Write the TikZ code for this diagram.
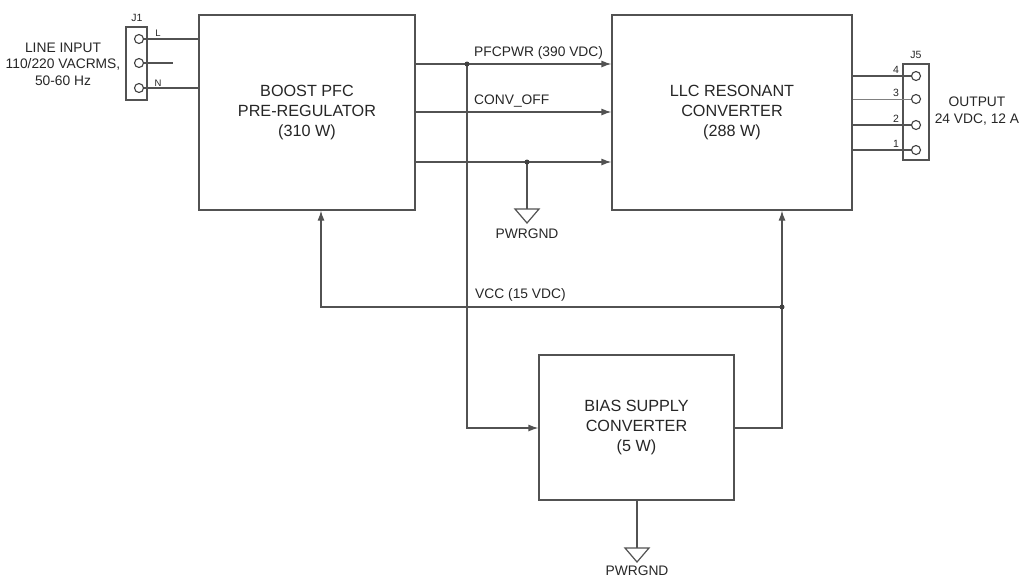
\documentclass[tikz,border=0pt]{standalone}
\usepackage{fontspec}
\setmainfont{Liberation Sans}
\usetikzlibrary{arrows.meta}
\begin{document}
\begin{tikzpicture}[x=1pt,y=-1pt,
  ln/.style={draw=black!68,line width=1.2pt},
  blk/.style={ln,fill=white,align=center,inner sep=0pt,text=black!85,font=\fontsize{16.2}{20}\selectfont},
  arr/.style={ln,-{Latex[length=10pt,width=7pt]}},
  lbl/.style={text=black!85,font=\fontsize{13.8}{16.5}\selectfont,inner sep=0pt},
  sml/.style={text=black!85,font=\fontsize{10.5}{12}\selectfont,inner sep=0pt},
  dotc/.style={circle,fill=black!75,inner sep=0pt,minimum size=5pt},
  pin/.style={circle,draw=black!75,line width=1.1pt,fill=white,inner sep=0pt,minimum size=9pt},
  conn/.style={draw=black!68,line width=1.2pt,inner sep=0pt}
]
\useasboundingbox (0,0) rectangle (1019,579);

% blocks
\node[blk,minimum width=216pt,minimum height=195pt] (boost) at (307,112.5) {BOOST PFC\\PRE-REGULATOR\\(310 W)};
\node[blk,minimum width=240pt,minimum height=195pt] (llc) at (732,112.5) {LLC RESONANT\\CONVERTER\\(288 W)};
\node[blk,minimum width=195pt,minimum height=145pt] (bias) at (636.5,427.5) {BIAS SUPPLY\\CONVERTER\\(5 W)};

% J1 connector
\node[conn,minimum width=21pt,minimum height=73pt] (j1) at (136.5,63.5) {};
\node[pin] (j1a) at (139,39) {};
\node[pin] (j1b) at (139,63) {};
\node[pin] (j1c) at (139,88) {};
\coordinate (j1bend) at (173,63);
\draw[ln] (j1a) -- (boost.west |- j1a);
\draw[ln] (j1b) -- (j1bend);
\draw[ln] (j1c) -- (boost.west |- j1c);
\node[sml] (j1lab) at (137,18) {J1};
\node[sml,font=\fontsize{9.5}{10}\selectfont] (lL) at (158,33) {L};
\node[sml,font=\fontsize{9.5}{10}\selectfont] (lN) at (158,83) {N};
\node[lbl,align=center] (lin) at (63,64) {LINE INPUT\\110/220 VACRMS,\\50-60 Hz};

% J5 connector
\node[conn,minimum width=26pt,minimum height=96pt] (j5) at (916,112) {};
\node[pin] (p4) at (916,76) {};
\node[pin] (p3) at (916,99) {};
\node[pin] (p2) at (916,125) {};
\node[pin] (p1) at (916,150) {};
\draw[ln] (llc.east |- p4) -- (p4);
\draw[ln,draw=black!50,line width=0.8pt] (llc.east |- p3) -- (p3);
\draw[ln] (llc.east |- p2) -- (p2);
\draw[ln] (llc.east |- p1) -- (p1);
\node[sml] (n4) at (896,70) {4};
\node[sml] (n3) at (896,93) {3};
\node[sml] (n2) at (896,119) {2};
\node[sml] (n1) at (896,144) {1};
\node[sml] (j5lab) at (916,55) {J5};
\node[lbl,align=center] (out) at (977,111) {OUTPUT\\24 VDC, 12 A};

% signals between boost and llc
\coordinate (pj) at (467,64);
\coordinate (cj) at (467,112);
\coordinate (gj) at (527,162);
\draw[arr] (boost.east |- pj) -- (llc.west |- pj);
\draw[arr] (boost.east |- cj) -- (llc.west |- cj);
\draw[arr] (boost.east |- gj) -- (llc.west |- gj);
\node[lbl,anchor=west] (pfcl) at (474,53) {PFCPWR (390 VDC)};
\node[lbl,anchor=west] (convl) at (474,101) {CONV\_OFF};

% ground 1
\coordinate (g1) at (527,209);
\draw[ln] (gj) -- (g1);
\draw[ln,line join=miter] (g1) ++(-12,0) -- ++(24,0) -- ++(-12,14) -- cycle;
\node[lbl] (gnd1) at (527,234) {PWRGND};

% PFCPWR to bias
\coordinate (bb) at (467,428);
\draw[arr] (pj) -- (bb) -- (bias.west |- bb);

% bias output to llc and VCC
\coordinate (bo) at (782,428);
\coordinate (vj) at (782,307);
\coordinate (vl) at (321,307);
\draw[arr] (bias.east |- bo) -- (bo) -- (llc.south -| bo);
\draw[arr] (vj) -- (vl) -- (boost.south -| vl);
\node[lbl,anchor=west] (vccl) at (475,295) {VCC (15 VDC)};

% ground 2
\coordinate (g2) at (637,548);
\draw[ln] (bias.south -| g2) -- (g2);
\draw[ln,line join=miter] (g2) ++(-12,0) -- ++(24,0) -- ++(-12,14) -- cycle;
\node[lbl] (gnd2) at (637,571) {PWRGND};

% junction dots
\node[dotc] at (pj) {};
\node[dotc] at (gj) {};
\node[dotc] at (vj) {};
\end{tikzpicture}
\end{document}
